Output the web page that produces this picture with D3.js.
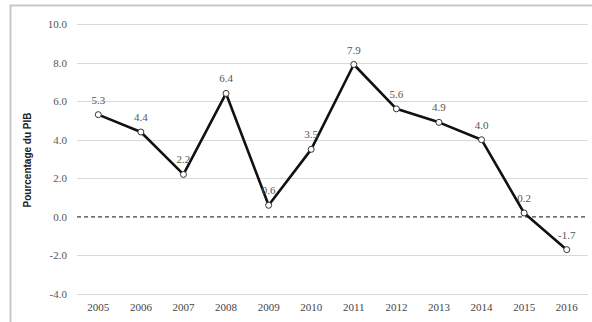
<!DOCTYPE html>
<html lang="fr">
<head>
<meta charset="utf-8">
<script src="https://d3js.org/d3.v7.min.js"></script>
<style>
body { margin: 0; background: #fff; }
</style>
</head>
<body>
<svg id="chart" width="592" height="322"></svg>
<script>
// data
var years = ["2005","2006","2007","2008","2009","2010","2011","2012","2013","2014","2015","2016"];
var values = [5.3, 4.4, 2.2, 6.4, 0.6, 3.5, 7.9, 5.6, 4.9, 4.0, 0.2, -1.7];
var yTicks = [-4, -2, 0, 2, 4, 6, 8, 10];

var serif = "'Liberation Serif', 'Times New Roman', serif";
var fmt = function(d) { return d.toFixed(1); };

var svg = d3.select("#chart");

// frame
svg.append("path")
    .attr("d", "M10.5,323 V5.5 H593")
    .attr("fill", "none")
    .attr("stroke", "#c8c8c8")
    .attr("stroke-width", 2);

var x = d3.scaleBand().domain(years).range([77, 588]);
var y = d3.scaleLinear().domain([-4, 10]).range([294, 24]);

// gridlines
svg.append("g").selectAll("line")
    .data(yTicks.filter(function(d) { return d != 0; }))
    .enter().append("line")
    .attr("x1", 77).attr("x2", 588)
    .attr("y1", function(d) { return Math.round(y(d)) + 0.5; })
    .attr("y2", function(d) { return Math.round(y(d)) + 0.5; })
    .attr("stroke", "#d9d9d9")
    .attr("stroke-width", 1.2);

// zero line dashed
svg.append("line")
    .attr("x1", 77).attr("x2", 588)
    .attr("y1", y(0)).attr("y2", y(0))
    .attr("stroke", "#404040")
    .attr("stroke-width", 1.2)
    .attr("stroke-dasharray", "4,3");

// y axis
var yAxis = d3.axisLeft(y).tickValues(yTicks).tickSize(0).tickPadding(0).tickFormat(fmt);
svg.append("g")
    .attr("transform", "translate(67,0)")
    .call(yAxis)
    .attr("font-family", serif)
    .attr("font-size", 11)
    .call(function(g) {
      g.select(".domain").remove();
      g.selectAll("text").attr("fill", "#555");
    });

// x axis
var xAxis = d3.axisBottom(x).tickSize(0).tickPadding(0);
svg.append("g")
    .attr("transform", "translate(0,303)")
    .call(xAxis)
    .attr("font-family", serif)
    .attr("font-size", 11)
    .call(function(g) {
      g.select(".domain").remove();
      g.selectAll("text").attr("fill", "#444");
    });

// y title
svg.append("text")
    .attr("transform", "translate(31,160) rotate(-90)")
    .attr("text-anchor", "middle")
    .attr("font-family", "'Liberation Sans', Arial, sans-serif")
    .attr("font-size", 10)
    .attr("font-weight", "bold")
    .attr("fill", "#222")
    .text("Pourcentage du PIB");

var cx = function(d, i) { return x(years[i]) + x.bandwidth() / 2; };

// line
var line = d3.line()
    .x(function(d, i) { return cx(d, i); })
    .y(function(d) { return y(d); });
svg.append("path")
    .datum(values)
    .attr("d", line)
    .attr("fill", "none")
    .attr("stroke", "#111")
    .attr("stroke-width", 2.6)
    .attr("stroke-linejoin", "round");

// markers
svg.append("g").selectAll("circle")
    .data(values)
    .enter().append("circle")
    .attr("cx", cx)
    .attr("cy", function(d) { return y(d); })
    .attr("r", 3)
    .attr("fill", "#fff")
    .attr("stroke", "#333")
    .attr("stroke-width", 1);

// data labels
svg.append("g").selectAll("text")
    .data(values)
    .enter().append("text")
    .attr("x", cx)
    .attr("y", function(d) { return y(d) - 11; })
    .attr("text-anchor", "middle")
    .attr("font-family", serif)
    .attr("font-size", 11)
    .attr("fill", "#555")
    .text(fmt);
</script>
</body>
</html>
